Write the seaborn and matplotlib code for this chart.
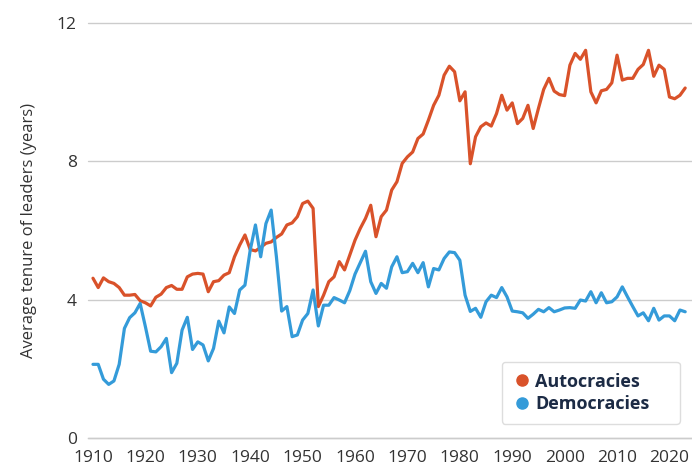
import numpy as np
import pandas as pd
import matplotlib
matplotlib.use("Agg")
import matplotlib.pyplot as plt
from matplotlib.lines import Line2D
import seaborn as sns

years = list(range(1910, 2024))

autocracies = [
    4.62, 4.35, 4.63, 4.52, 4.47, 4.35, 4.13, 4.13, 4.15, 3.97,
    3.91, 3.82, 4.07, 4.16, 4.35, 4.41, 4.30, 4.30, 4.66, 4.74,
    4.76, 4.74, 4.23, 4.52, 4.55, 4.71, 4.78, 5.24, 5.58, 5.87,
    5.45, 5.41, 5.51, 5.63, 5.67, 5.80, 5.90, 6.16, 6.22, 6.40,
    6.78, 6.85, 6.64, 3.80, 4.13, 4.52, 4.66, 5.10, 4.86, 5.29,
    5.72, 6.06, 6.35, 6.73, 5.82, 6.40, 6.59, 7.17, 7.41, 7.94,
    8.13, 8.27, 8.66, 8.79, 9.19, 9.62, 9.91, 10.49, 10.75, 10.59,
    9.75, 10.01, 7.93, 8.71, 9.00, 9.11, 9.02, 9.38, 9.91, 9.48,
    9.69, 9.09, 9.24, 9.62, 8.95, 9.53, 10.08, 10.40, 10.03, 9.93,
    9.90, 10.78, 11.12, 10.95, 11.21, 10.01, 9.69, 10.04, 10.08, 10.27,
    11.07, 10.35, 10.40, 10.40, 10.66, 10.80, 11.21, 10.46, 10.78, 10.66,
    9.86, 9.81, 9.91, 10.12,
]

democracies = [
    2.13, 2.13, 1.70, 1.55, 1.65, 2.13, 3.17, 3.48, 3.62, 3.89,
    3.22, 2.51, 2.49, 2.64, 2.88, 1.89, 2.16, 3.12, 3.49, 2.56,
    2.78, 2.69, 2.23, 2.59, 3.38, 3.04, 3.79, 3.60, 4.28, 4.42,
    5.43, 6.16, 5.24, 6.20, 6.59, 5.24, 3.67, 3.80, 2.93, 2.98,
    3.41, 3.60, 4.28, 3.24, 3.84, 3.84, 4.06, 3.99, 3.91, 4.26,
    4.74, 5.07, 5.40, 4.52, 4.18, 4.47, 4.33, 4.95, 5.24, 4.78,
    4.81, 5.05, 4.78, 5.07, 4.37, 4.90, 4.86, 5.19, 5.38, 5.36,
    5.14, 4.13, 3.66, 3.75, 3.49, 3.94, 4.13, 4.06, 4.35, 4.08,
    3.67, 3.65, 3.62, 3.46, 3.58, 3.72, 3.65, 3.77, 3.65, 3.70,
    3.76, 3.77, 3.75, 3.99, 3.96, 4.23, 3.91, 4.20, 3.91, 3.94,
    4.08, 4.37, 4.08, 3.80, 3.53, 3.62, 3.39, 3.75, 3.41, 3.53,
    3.53, 3.39, 3.70, 3.65,
]

regimes = ["Autocracies", "Democracies"]
colors = {"Autocracies": "#d9522a", "Democracies": "#349bd9"}
x_ticks = list(range(1910, 2030, 10))
y_ticks = [0, 4, 8, 12]
y_label = "Average tenure of leaders (years)"

df = pd.concat([
    pd.DataFrame({"year": years, "tenure": autocracies, "regime": "Autocracies"}),
    pd.DataFrame({"year": years, "tenure": democracies, "regime": "Democracies"}),
], ignore_index=True)

sns.set_style("white")
plt.rcParams["font.family"] = ["Open Sans", "DejaVu Sans"]

fig = plt.figure(figsize=(6.92, 4.71), dpi=100)
ax = fig.add_axes([88 / 692, 1 - 438 / 471, 604 / 692, 415 / 471])

sns.lineplot(data=df, x="year", y="tenure", hue="regime", hue_order=regimes,
             palette=colors, linewidth=2.3, legend=False, ax=ax)

ax.set_xlim(1909.05, 2024.3)
ax.set_ylim(0, 12)
ax.set_xticks(x_ticks)
ax.set_yticks(y_ticks)
ax.set_xlabel("")
ax.set_ylabel(y_label, fontsize=12, color="#333333", labelpad=14)

ax.yaxis.grid(True, color="#cccccc", linewidth=1, clip_on=False)
ax.xaxis.grid(False)
for side in ("left", "top", "right"):
    ax.spines[side].set_visible(False)
ax.spines["bottom"].set_color("#cccccc")
ax.spines["bottom"].set_linewidth(1)

ax.tick_params(axis="x", direction="out", length=7, width=1, color="#cccccc",
               labelsize=12.5, labelcolor="#333333", pad=2)
ax.tick_params(axis="y", length=0, labelsize=12.5, labelcolor="#333333", pad=8)

# Legend box spans a fixed region in the lower right of the axes
handles = [Line2D([], [], marker="o", linestyle="", markersize=8,
                  markerfacecolor=colors[r], markeredgecolor=colors[r])
           for r in regimes]
leg = ax.legend(handles, regimes, loc="lower left",
                bbox_to_anchor=(0.685, 0.034, 0.295, 0.147), mode="expand",
                frameon=True, fancybox=True, handletextpad=0.25, handlelength=1.0,
                borderpad=0.6, labelspacing=0.25, borderaxespad=0,
                prop={"weight": "bold", "size": 13})
frame = leg.get_frame()
frame.set_edgecolor("#dddddd")
frame.set_facecolor("white")
frame.set_linewidth(1)
frame.set_alpha(1)
for t in leg.get_texts():
    t.set_color("#1c2b45")

fig.savefig("out.png", dpi=100)
